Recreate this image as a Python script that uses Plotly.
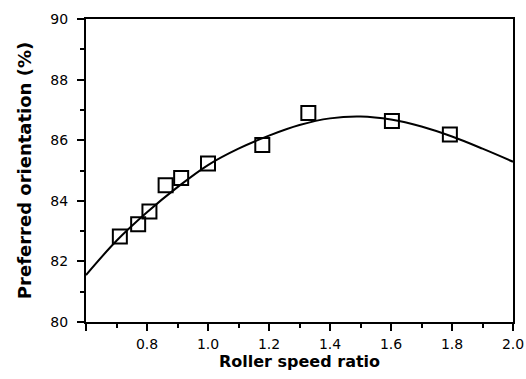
import plotly.graph_objects as go

# Measured data points
speed_ratio = [0.711, 0.771, 0.808, 0.861, 0.912, 1.0, 1.178, 1.329, 1.603, 1.793]
orientation = [82.82, 83.23, 83.65, 84.51, 84.75, 85.23, 85.84, 86.90, 86.63, 86.19]

# Fitted curve
curve_x = [0.6, 0.7, 0.8, 0.9, 1.0, 1.1, 1.2, 1.3, 1.4, 1.5, 1.6, 1.7, 1.8, 1.9, 2.0]
curve_y = [81.55, 82.68, 83.62, 84.45, 85.18, 85.72, 86.15, 86.50, 86.72, 86.78, 86.68, 86.45, 86.12, 85.72, 85.29]

x_tickvals = [0.6, 0.8, 1.0, 1.2, 1.4, 1.6, 1.8, 2.0]
x_ticktext = ["", "0.8", "1.0", "1.2", "1.4", "1.6", "1.8", "2.0"]
y_tickvals = [80, 82, 84, 86, 88, 90]

fig = go.Figure()
fig.add_trace(go.Scatter(x=curve_x, y=curve_y, mode="lines",
                         line=dict(color="black", width=2, shape="spline"),
                         showlegend=False, hoverinfo="skip"))
fig.add_trace(go.Scatter(x=speed_ratio, y=orientation, mode="markers",
                         marker=dict(symbol="square-open", size=14,
                                     color="black", line=dict(width=2, color="black")),
                         showlegend=False))

tick_font = dict(family="DejaVu Sans, sans-serif", size=14, color="black")
title_family = "DejaVu Sans, sans-serif"

fig.update_layout(
    width=526, height=379,
    margin=dict(l=86, r=13, t=19, b=57),
    paper_bgcolor="white", plot_bgcolor="white",
    font=dict(family="DejaVu Sans, sans-serif", color="black"),
    xaxis=dict(
        range=[0.6, 2.0], tickvals=x_tickvals, ticktext=x_ticktext,
        automargin=False,
        ticks="outside", ticklen=7, tickwidth=2, tickcolor="black",
        minor=dict(dtick=0.1, tick0=0.6, ticks="outside", ticklen=4, tickwidth=2, tickcolor="black"),
        showline=True, linecolor="black", linewidth=2, mirror=True,
        showgrid=False, zeroline=False,
        tickfont=tick_font, ticklabelstandoff=1,
        title=dict(text="<b>Roller speed ratio</b>",
                   font=dict(family=title_family, size=16), standoff=1),
    ),
    yaxis=dict(
        range=[80, 90], tickvals=y_tickvals,
        automargin=False,
        ticks="outside", ticklen=7, tickwidth=2, tickcolor="black",
        minor=dict(dtick=1, tick0=80, ticks="outside", ticklen=4, tickwidth=2, tickcolor="black"),
        showline=True, linecolor="black", linewidth=2, mirror=True,
        showgrid=False, zeroline=False,
        tickfont=tick_font, ticklabelstandoff=6,
        title=dict(text="<b>Preferred orientation (%)</b>",
                   font=dict(family=title_family, size=18), standoff=14),
    ),
)

fig.write_html("out.html")
